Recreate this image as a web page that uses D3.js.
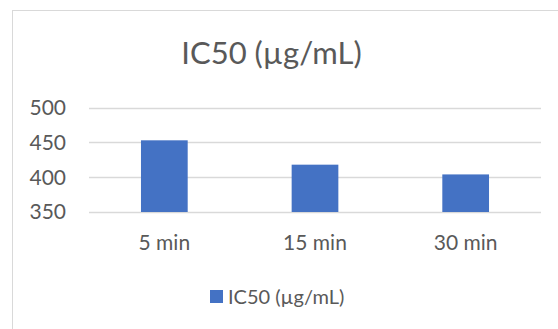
<!DOCTYPE html>
<html>
<head>
<meta charset="utf-8">
<script src="https://cdn.jsdelivr.net/npm/d3@7"></script>
<style>
body { margin: 0; background: #fff; }
text { font-family: Lato, "Open Sans", sans-serif; fill: #595959; }
</style>
</head>
<body>
<div id="container"></div>
<script>
var categories = ['5 min', '15 min', '30 min'];
var values = [453, 418, 404];
var yTicks = [350, 400, 450, 500];
var seriesName = 'IC50 (µg/mL)';

var width = 558,
    height = 329;

var svg = d3.select('#container')
    .append('svg')
    .attr('width', width)
    .attr('height', height);

// chart frame (right / bottom edges fall outside the crop)
svg.append('rect')
    .attr('x', 12.5)
    .attr('y', 10.5)
    .attr('width', 600)
    .attr('height', 400)
    .attr('fill', '#fff')
    .attr('stroke', '#d9d9d9')
    .attr('stroke-width', 1);

var x = d3.scaleBand()
    .domain(categories)
    .range([89, 541])
    .paddingInner(0.69)
    .paddingOuter(0.345);

var y = d3.scaleLinear()
    .domain([350, 500])
    .range([212, 107.6]);

// gridlines
svg.append('g')
    .selectAll('line')
    .data(yTicks)
    .enter()
    .append('line')
    .attr('x1', 89)
    .attr('x2', 541)
    .attr('y1', function(d) { return Math.round(y(d)) + 0.5; })
    .attr('y2', function(d) { return Math.round(y(d)) + 0.5; })
    .attr('stroke', '#d9d9d9')
    .attr('stroke-width', 1.5);

svg.append('g')
    .selectAll('text')
    .data(yTicks)
    .enter()
    .append('text')
    .attr('x', 66)
    .attr('y', function(d) { return y(d); })
    .attr('dy', '0.35em')
    .attr('text-anchor', 'end')
    .style('font-size', '21px')
    .text(function(d) { return d; });

svg.append('g')
    .selectAll('rect')
    .data(values)
    .enter()
    .append('rect')
    .attr('x', function(d, i) { return x(categories[i]); })
    .attr('width', x.bandwidth())
    .attr('y', function(d) { return y(d); })
    .attr('height', function(d) { return y(350) - y(d); })
    .attr('fill', '#4472c4');

svg.append('g')
    .selectAll('text')
    .data(categories)
    .enter()
    .append('text')
    .attr('x', function(d) { return x(d) + x.bandwidth() / 2; })
    .attr('y', 250)
    .attr('text-anchor', 'middle')
    .style('font-size', '21px')
    .text(function(d) { return d; });

svg.append('text')
    .attr('x', 271.5)
    .attr('y', 64)
    .attr('text-anchor', 'middle')
    .style('font-size', '31px')
    .text(seriesName);

var legend = svg.append('g');
legend.append('rect')
    .attr('x', 210)
    .attr('y', 290)
    .attr('width', 13)
    .attr('height', 13)
    .attr('fill', '#4472c4');
legend.append('text')
    .attr('x', 228)
    .attr('y', 304)
    .style('font-size', '20px')
    .text(seriesName);
</script>
</body>
</html>
